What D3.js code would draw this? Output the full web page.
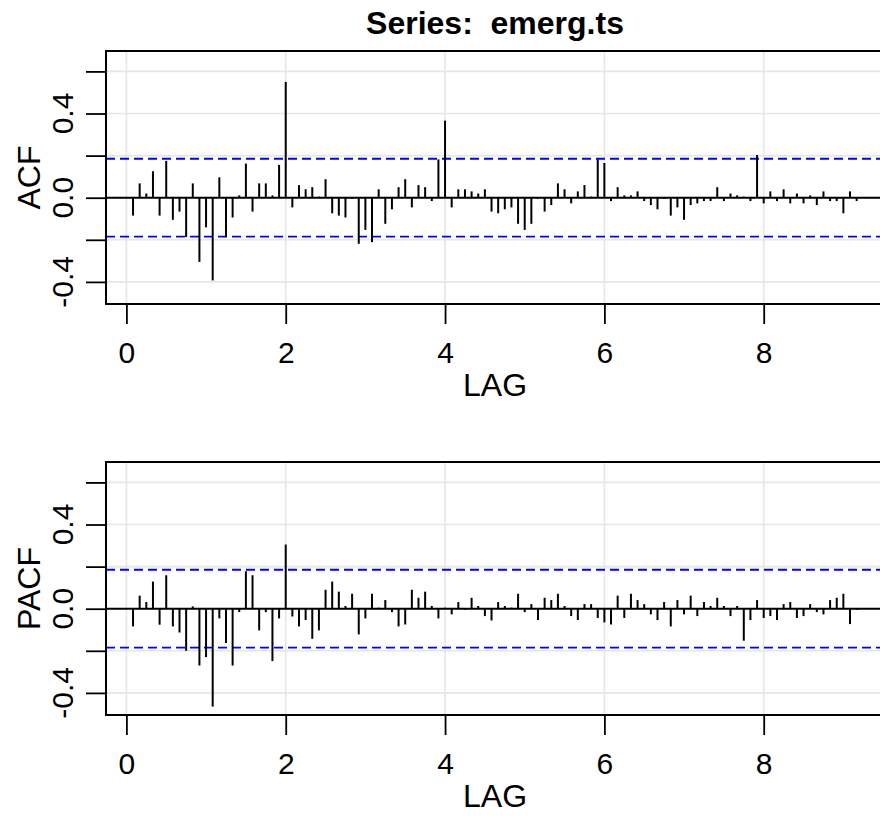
<!DOCTYPE html>
<html>
<head>
<meta charset="utf-8">
<script src="https://cdn.jsdelivr.net/npm/d3@7"></script>
<style>
  html, body { margin: 0; padding: 0; background: #ffffff; }
  svg { display: block; font-family: "Liberation Sans", Arial, sans-serif; }
</style>
</head>
<body>
<svg id="chart" width="880" height="816"></svg>
<script>
// ---------------- data ----------------
const seriesTitle = "Series:  emerg.ts";
const frequency = 12;            // monthly series: lag shown in years
const acfValues = [
  -0.085, 0.068, 0.020, 0.126, -0.085, 0.175, -0.105, -0.066, -0.187, 0.068,
  -0.305, -0.141, -0.393, 0.097, -0.187, -0.094, 0.011, 0.162, -0.066, 0.068,
  0.068, 0.011, 0.156, 0.550, -0.046, 0.060, 0.040, 0.050, 0.005, 0.088,
  -0.074, -0.085, -0.094, -0.005, -0.219, -0.153, -0.211, 0.040, -0.124, -0.055,
  0.050, 0.088, -0.046, 0.060, 0.050, -0.016, 0.182, 0.366, -0.046, 0.040,
  0.040, 0.030, 0.020, 0.040, -0.066, -0.074, -0.055, -0.046, -0.124, -0.153,
  -0.124, -0.005, -0.066, -0.035, 0.068, 0.040, -0.027, 0.030, 0.060, 0.005,
  0.182, 0.165, -0.016, 0.050, 0.011, 0.011, 0.030, -0.016, -0.035, -0.055,
  -0.005, -0.085, -0.046, -0.105, -0.035, -0.027, -0.016, -0.016, 0.050, -0.016,
  0.020, 0.011, 0.005, -0.016, 0.203, -0.027, 0.030, -0.016, 0.040, -0.027,
  0.020, -0.027, 0.011, -0.035, 0.030, -0.016, -0.016, -0.074, 0.030, -0.016
];
const pacfValues = [
  -0.084, 0.062, 0.032, 0.129, -0.076, 0.159, -0.084, -0.113, -0.200, 0.011,
  -0.270, -0.230, -0.465, -0.046, -0.163, -0.270, -0.016, 0.178, 0.159, -0.103,
  -0.016, -0.249, -0.046, 0.305, -0.037, -0.084, -0.054, -0.143, -0.103, 0.090,
  0.129, 0.081, 0.013, 0.071, -0.122, -0.046, 0.071, 0.005, 0.041, -0.016,
  -0.084, -0.075, 0.090, 0.052, 0.081, 0.013, -0.046, 0.005, -0.027, 0.032,
  -0.005, 0.052, 0.013, -0.035, -0.056, 0.032, 0.013, 0.005, 0.071, -0.016,
  0.022, -0.054, 0.052, 0.041, 0.071, 0.013, -0.035, -0.054, 0.022, 0.022,
  -0.044, -0.065, -0.075, 0.062, -0.044, 0.071, 0.041, 0.022, -0.027, -0.054,
  0.032, -0.084, 0.041, -0.027, 0.062, -0.035, 0.032, 0.013, 0.052, 0.013,
  -0.035, 0.013, -0.152, -0.054, 0.041, -0.044, -0.035, -0.054, 0.022, 0.032,
  -0.044, -0.035, 0.022, -0.016, -0.027, 0.041, 0.052, 0.071, -0.073, -0.005
];
const confLimit = 0.185;                       // +/- significance bound
const xTickValues = [0, 2, 4, 6, 8];
const yTickValues = [-0.4, -0.2, 0.0, 0.2, 0.4, 0.6];
const yLabelValues = [-0.4, 0.0, 0.4];
const xLabel = "LAG";
const panelLabels = ["ACF", "PACF"];

// ---------------- layout ----------------
const svg = d3.select("#chart");
const plotLeft = 106, plotRight = 884;
const panels = [
  { label: panelLabels[0], values: acfValues,  top: 51,  bottom: 304 },
  { label: panelLabels[1], values: pacfValues, top: 462, bottom: 715 }
];
const x = d3.scaleLinear().domain([-0.256, 9.51]).range([plotLeft, plotRight]);
const yDomain = [-0.505, 0.697];

// title
svg.append("text")
  .attr("x", (plotLeft + plotRight) / 2)
  .attr("y", 34)
  .attr("text-anchor", "middle")
  .attr("font-size", 32)
  .attr("font-weight", "bold")
  .style("white-space", "pre")
  .attr("xml:space", "preserve")
  .text(seriesTitle);

panels.forEach(p => {
  const y = d3.scaleLinear().domain(yDomain).range([p.bottom, p.top]);
  const g = svg.append("g");
  const data = p.values.map((v, i) => ({ lag: (i + 1) / frequency, value: v }));

  // clip
  const clipId = "clip-" + p.label;
  svg.append("clipPath").attr("id", clipId)
    .append("rect").attr("x", plotLeft).attr("y", p.top)
    .attr("width", plotRight - plotLeft).attr("height", p.bottom - p.top);
  const inner = g.append("g").attr("clip-path", `url(#${clipId})`);

  // grid
  inner.selectAll(".vgrid").data(xTickValues).join("line")
    .attr("x1", d => x(d)).attr("x2", d => x(d))
    .attr("y1", p.top).attr("y2", p.bottom)
    .attr("stroke", "#e6e6e6").attr("stroke-width", 1.6);
  inner.selectAll(".hgrid").data(yTickValues).join("line")
    .attr("x1", plotLeft).attr("x2", plotRight)
    .attr("y1", d => y(d)).attr("y2", d => y(d))
    .attr("stroke", "#e6e6e6").attr("stroke-width", 1.6);

  // zero line
  inner.append("line")
    .attr("x1", plotLeft).attr("x2", plotRight)
    .attr("y1", y(0)).attr("y2", y(0))
    .attr("stroke", "#000").attr("stroke-width", 2);

  // confidence bounds
  [confLimit, -confLimit].forEach(c => {
    inner.append("line")
      .attr("x1", plotLeft).attr("x2", plotRight)
      .attr("y1", y(c)).attr("y2", y(c))
      .attr("stroke", "#0000ff").attr("stroke-width", 1.8)
      .attr("stroke-dasharray", "9,5");
  });

  // spikes
  inner.selectAll(".spike").data(data).join("line")
    .attr("x1", d => x(d.lag)).attr("x2", d => x(d.lag))
    .attr("y1", y(0)).attr("y2", d => y(d.value))
    .attr("stroke", "#000").attr("stroke-width", 2);

  // box
  g.append("rect")
    .attr("x", plotLeft).attr("y", p.top)
    .attr("width", plotRight - plotLeft).attr("height", p.bottom - p.top)
    .attr("fill", "none").attr("stroke", "#000").attr("stroke-width", 2);

  // x axis
  const xAxis = d3.axisBottom(x).tickValues(xTickValues).tickSize(20).tickPadding(18)
    .tickFormat(d3.format("d"));
  const xa = g.append("g").attr("transform", `translate(0,${p.bottom})`).call(xAxis);
  xa.select(".domain").remove();
  xa.selectAll(".tick line").attr("stroke", "#000").attr("stroke-width", 1.8);
  xa.selectAll(".tick text").attr("font-size", 30).attr("fill", "#000")
    .attr("font-family", "Liberation Sans, Arial, sans-serif");

  // y axis ticks
  const yAxis = d3.axisLeft(y).tickValues(yTickValues).tickSize(20).tickFormat("");
  const ya = g.append("g").attr("transform", `translate(${plotLeft},0)`).call(yAxis);
  ya.select(".domain").remove();
  ya.selectAll(".tick line").attr("stroke", "#000").attr("stroke-width", 1.8);

  // y tick labels (rotated, as in R)
  g.selectAll(".ylab").data(yLabelValues).join("text")
    .attr("transform", d => `translate(73,${y(d)}) rotate(-90)`)
    .attr("text-anchor", "middle")
    .attr("font-size", 30)
    .text(d => d.toFixed(1));

  // panel y label
  g.append("text")
    .attr("transform", `translate(40,${(p.top + p.bottom) / 2}) rotate(-90)`)
    .attr("text-anchor", "middle")
    .attr("font-size", 32)
    .text(p.label);

  // x label
  g.append("text")
    .attr("x", (plotLeft + plotRight) / 2)
    .attr("y", p.bottom + 92)
    .attr("text-anchor", "middle")
    .attr("font-size", 32)
    .text(xLabel);
});
</script>
</body>
</html>
